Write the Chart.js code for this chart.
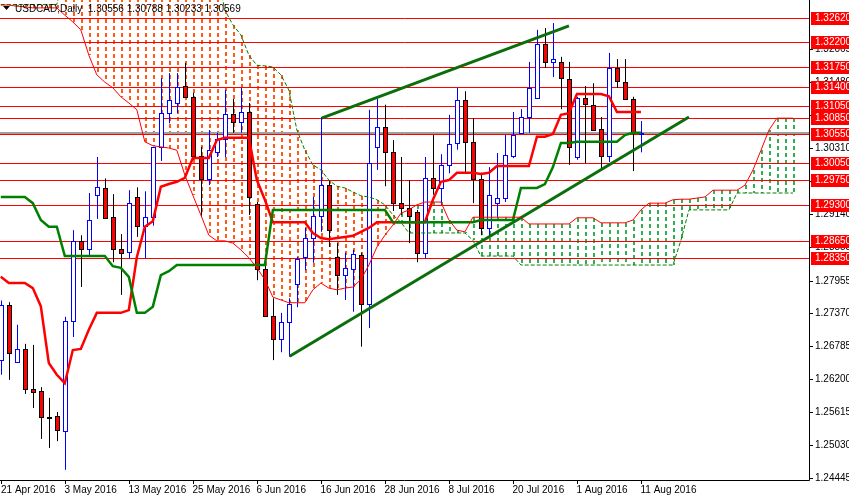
<!DOCTYPE html>
<html>
<head>
<meta charset="utf-8">
<script src="https://cdn.jsdelivr.net/npm/chart.js@4"></script>
<style>
  html, body { margin: 0; padding: 0; background: #fff; overflow: hidden; }
  canvas { display: block; }
</style>
</head>
<body>
<canvas id="chart" width="849" height="495"></canvas>
<script>
// daily candles, index 0 = 21 Apr 2016
const opens = [1.2654,1.2752,1.2651,1.2674,1.2603,1.2599,1.2553,1.2555,1.2528,1.2724,
  1.2866,1.2852,1.2948,1.2960,1.2908,1.2852,1.2846,1.2944,1.2893,1.2908,
  1.3033,1.3093,1.3111,1.3141,1.3121,1.3017,1.2976,1.3024,1.3047,1.3091,
  1.3077,1.3095,1.2932,1.2816,1.2732,1.2692,1.2722,1.2789,1.2837,1.2871,
  1.2910,1.2965,1.2837,1.2805,1.2816,1.2841,1.2754,1.3033,1.3068,1.3024,
  1.2933,1.2924,1.2917,1.2844,1.2978,1.2960,1.3001,1.3040,1.3116,1.3042,
  1.2976,1.2889,1.2933,1.2942,1.3017,1.3058,1.3086,1.3120,1.3216,1.3184,
  1.3184,1.3154,1.3015,1.3120,1.3107,1.3065,1.3017,1.3173,1.3148,1.3118,1.30556];
const highs = [1.2760,1.2757,1.2717,1.2683,1.2681,1.2606,1.2587,1.2562,1.2731,1.2885,
  1.2876,1.2951,1.3015,1.2977,1.2949,1.2878,1.2956,1.2961,1.2954,1.3033,
  1.3155,1.3164,1.3164,1.3182,1.3129,1.3033,1.3063,1.3058,1.3134,1.3118,
  1.3138,1.3111,1.2935,1.2827,1.2764,1.2738,1.2764,1.2837,1.2889,1.2944,
  1.3086,1.2974,1.2862,1.2845,1.2850,1.2845,1.3099,1.3118,1.3108,1.3045,
  1.3015,1.2974,1.2921,1.3015,1.3054,1.3020,1.3090,1.3138,1.3132,1.3084,
  1.2987,1.2997,1.3022,1.3054,1.3095,1.3100,1.3184,1.3241,1.3244,1.3253,
  1.3193,1.3184,1.3122,1.3141,1.3146,1.3086,1.3200,1.3189,1.3189,1.3122,1.30788];
const lows = [1.2628,1.2619,1.2649,1.2594,1.2569,1.2514,1.2498,1.2510,1.2459,1.2695,
  1.2784,1.2839,1.2905,1.2905,1.2828,1.2770,1.2835,1.2873,1.2835,1.2893,
  1.3008,1.3075,1.3093,1.3120,1.3010,1.2908,1.2965,1.3015,1.3015,1.3058,
  1.3058,1.2912,1.2796,1.2731,1.2654,1.2668,1.2660,1.2748,1.2814,1.2827,
  1.2882,1.2855,1.2770,1.2761,1.2740,1.2678,1.2711,1.2992,1.2963,1.2919,
  1.2912,1.2862,1.2828,1.2835,1.2948,1.2930,1.2986,1.3028,1.2986,1.2933,
  1.2876,1.2871,1.2908,1.2935,1.3013,1.3058,1.3058,1.3120,1.3173,1.3157,
  1.3100,1.3001,1.3010,1.3004,1.3063,1.2995,1.3006,1.3138,1.3118,1.2990,1.30233];
const closes = [1.2752,1.2667,1.2674,1.2603,1.2597,1.2553,1.2552,1.2530,1.2724,1.2866,
  1.2852,1.2903,1.2962,1.2907,1.2852,1.2844,1.2933,1.2893,1.2908,1.3033,
  1.3093,1.3116,1.3139,1.3121,1.3017,1.2976,1.3028,1.3047,1.3091,1.3077,
  1.3095,1.2944,1.2816,1.2732,1.2692,1.2722,1.2754,1.2834,1.2871,1.2910,
  1.2965,1.2885,1.2805,1.2818,1.2843,1.2754,1.3005,1.3068,1.3024,1.2933,
  1.2924,1.2910,1.2844,1.2978,1.2960,1.3001,1.3038,1.3116,1.3042,1.2976,
  1.2889,1.2948,1.2942,1.3019,1.3054,1.3086,1.3138,1.3216,1.3184,1.3189,
  1.3155,1.3033,1.3120,1.3109,1.3063,1.3017,1.3173,1.3150,1.3118,1.3058,1.30569];

// ichimoku lines
const tenkan = [1.2802,1.2791,1.2791,1.2791,1.2782,1.2750,1.2649,1.2628,1.2613,1.2672,
  1.2674,1.2708,1.2738,1.2738,1.2738,1.2738,1.2743,1.2837,1.2891,1.2901,
  1.2962,1.2967,1.2971,1.2978,1.3013,1.3013,1.3013,1.3045,1.3049,1.3049,
  1.3049,1.3049,1.2974,1.2939,1.2899,1.2899,1.2899,1.2899,1.2899,1.2880,
  1.2871,1.2869,1.2871,1.2873,1.2875,1.2882,1.2889,1.2899,1.2899,1.2899,
  1.2899,1.2899,1.2899,1.2899,1.2939,1.2971,1.2974,1.2987,1.2987,1.2987,
  1.2985,1.2987,1.2999,1.2999,1.2999,1.2999,1.2999,1.3051,1.3051,1.3056,
  1.3090,1.3093,1.3127,1.3127,1.3127,1.3127,1.3123,1.3095,1.3095,1.3095,1.3095];
const kijun = [1.2944,1.2944,1.2944,1.2944,1.2933,1.2903,1.2891,1.2891,1.2839,1.2839,
  1.2839,1.2839,1.2839,1.2839,1.2821,1.2818,1.2802,1.2738,1.2738,1.2749,
  1.2805,1.2812,1.2823,1.2823,1.2823,1.2823,1.2823,1.2823,1.2823,1.2823,
  1.2823,1.2823,1.2823,1.2823,1.2921,1.2921,1.2921,1.2921,1.2921,1.2921,
  1.2921,1.2921,1.2921,1.2921,1.2921,1.2921,1.2921,1.2921,1.2921,1.2899,
  1.2899,1.2899,1.2899,1.2899,1.2899,1.2899,1.2899,1.2899,1.2899,1.2899,
  1.2903,1.2903,1.2903,1.2903,1.2903,1.2960,1.2960,1.2960,1.2967,1.2997,
  1.3040,1.3040,1.3042,1.3042,1.3042,1.3042,1.3042,1.3042,1.3054,1.3058,1.3058];
const spanA = [1.3285,1.3285,1.3283,1.3282,1.3280,1.3280,1.3280,1.3280,1.3267,1.3255,
  1.3241,1.3196,1.3161,1.3148,1.3138,1.3122,1.3111,1.3099,1.3042,1.3035,
  1.3033,1.3031,1.3027,1.2983,1.2947,1.2912,1.2876,1.2866,1.2866,1.2862,
  1.2850,1.2836,1.2818,1.2797,1.2766,1.2761,1.2756,1.2756,1.2756,1.2779,
  1.2791,1.2782,1.2779,1.2782,1.2784,1.2797,1.2823,1.2855,1.2876,1.2894,
  1.2915,1.2921,1.2930,1.2935,1.2935,1.2935,1.2903,1.2885,1.2882,1.2908,
  1.2908,1.2908,1.2908,1.2908,1.2908,1.2908,1.2896,1.2896,1.2896,1.2896,
  1.2896,1.2896,1.2907,1.2907,1.2907,1.2898,1.2898,1.2898,1.2898,1.2903,
  1.2921,1.2933,1.2933,1.2933,1.2939,1.2940,1.2940,1.2942,1.2944,1.2956,
  1.2956,1.2956,1.2956,1.2965,1.2992,1.3027,1.3063,1.3084,1.3084,1.3084];
const spanB = [1.3286,1.3286,1.3286,1.3286,1.3286,1.3286,1.3286,1.3286,1.3347,1.3347,
  1.3347,1.3347,1.3347,1.3347,1.3347,1.3347,1.3347,1.3347,1.3347,1.3347,
  1.3347,1.3347,1.3347,1.3347,1.3347,1.3347,1.3347,1.3347,1.3276,1.3250,
  1.3232,1.3196,1.3178,1.3177,1.3175,1.3161,1.3134,1.3063,1.3027,1.3001,
  1.2992,1.2974,1.2963,1.2960,1.2953,1.2946,1.2944,1.2939,1.2930,1.2912,
  1.2899,1.2880,1.2880,1.2880,1.2880,1.2880,1.2880,1.2880,1.2880,1.2867,
  1.2839,1.2839,1.2839,1.2839,1.2839,1.2823,1.2823,1.2823,1.2823,1.2823,
  1.2823,1.2823,1.2823,1.2823,1.2823,1.2823,1.2823,1.2823,1.2823,1.2823,
  1.2823,1.2823,1.2823,1.2823,1.2823,1.2867,1.2921,1.2921,1.2921,1.2921,
  1.2921,1.2921,1.2951,1.2951,1.2951,1.2951,1.2951,1.2951,1.2951,1.2951];

// trend lines [bar index, price]
const trendUpper = [[40.1, 1.3084], [71, 1.3248]];
const trendLower = [[36.1, 1.2661], [86, 1.3086]];

const levels = [1.3262, 1.3220, 1.3175, 1.3140, 1.3105, 1.3085, 1.3055, 1.3005, 1.2975, 1.2930, 1.2865, 1.2835];
const bidPrice = 1.30569;
const yTicks = [1.32065, 1.31480, 1.30895, 1.30310, 1.29725, 1.29140, 1.28555, 1.27955, 1.27370, 1.26785, 1.26200, 1.25615, 1.25030, 1.24445];
const dateIdx = [0, 8, 16, 24, 32, 40, 48, 56, 64, 72, 80];
const dateLabels = ['21 Apr 2016', '3 May 2016', '13 May 2016', '25 May 2016', '6 Jun 2016', '16 Jun 2016',
  '28 Jun 2016', '8 Jul 2016', '20 Jul 2016', '1 Aug 2016', '11 Aug 2016'];
const title = 'USDCAD,Daily  1.30556 1.30788 1.30233 1.30569';

const FONT = '10px "Liberation Sans", Arial, sans-serif';
const pts = arr => arr.map((v, i) => ({ x: i, y: v }));
const tl = arr => arr.map(p => ({ x: p[0], y: p[1] }));

const mt4 = {
  id: 'mt4',
  beforeDraw(chart) {
    const ctx = chart.ctx;
    ctx.save();
    ctx.fillStyle = '#fff';
    ctx.fillRect(0, 0, chart.width, chart.height);
    ctx.restore();
  },
  beforeDatasetsDraw(chart) {
    const { ctx, chartArea: a } = chart;
    const xs = chart.scales.x, ys = chart.scales.y;
    ctx.save();
    ctx.beginPath();
    ctx.rect(a.left, a.top, a.right - a.left, a.bottom - a.top);
    ctx.clip();

    // cloud hatching: dashed verticals
    spanA.forEach((va, i) => {
      const vb = spanB[i];
      const x = Math.round(xs.getPixelForValue(i));
      const y1 = Math.round(Math.min(ys.getPixelForValue(va), ys.getPixelForValue(vb)));
      const y2 = Math.round(Math.max(ys.getPixelForValue(va), ys.getPixelForValue(vb)));
      ctx.fillStyle = vb > va ? '#ff5a1a' : '#30b050';
      for (let y = y1; y < y2; y += 7) ctx.fillRect(x, y, 2, Math.min(4, y2 - y));
    });

    // levels
    ctx.lineWidth = 1;
    ctx.strokeStyle = '#ff0000';
    levels.forEach(l => {
      const y = Math.round(ys.getPixelForValue(l)) + 0.5;
      ctx.beginPath();
      ctx.moveTo(a.left, y);
      ctx.lineTo(a.right, y);
      ctx.stroke();
    });
    ctx.strokeStyle = '#a0a0a0';
    ctx.lineWidth = 2;
    const by = Math.round(ys.getPixelForValue(bidPrice));
    ctx.beginPath();
    ctx.moveTo(a.left, by);
    ctx.lineTo(a.right, by);
    ctx.stroke();

    // candles
    ctx.lineWidth = 1;
    opens.forEach((o, i) => {
      const c = closes[i];
      const x = Math.round(xs.getPixelForValue(i));
      const up = c >= o;
      const yH = ys.getPixelForValue(highs[i]), yL = ys.getPixelForValue(lows[i]);
      const yT = Math.round(ys.getPixelForValue(Math.max(o, c)));
      const yB = Math.max(Math.round(ys.getPixelForValue(Math.min(o, c))), yT + 1);
      ctx.strokeStyle = up ? '#0000ff' : '#000000';
      ctx.beginPath();
      ctx.moveTo(x + 0.5, yH);
      ctx.lineTo(x + 0.5, yL);
      ctx.stroke();
      ctx.fillStyle = up ? '#ffffff' : '#ff0000';
      ctx.fillRect(x - 2, yT, 5, yB - yT);
      ctx.strokeRect(x - 2 + 0.5, yT + 0.5, 4, yB - yT);
    });
    ctx.restore();
  },
  afterDraw(chart) {
    const { ctx, chartArea: a } = chart;
    const xs = chart.scales.x, ys = chart.scales.y;
    ctx.save();
    ctx.strokeStyle = '#000';
    ctx.lineWidth = 1;
    ctx.beginPath();
    ctx.moveTo(a.right + 0.5, 0);
    ctx.lineTo(a.right + 0.5, a.bottom + 0.5);
    ctx.lineTo(0, a.bottom + 0.5);
    ctx.stroke();
    ctx.font = FONT;
    ctx.fillStyle = '#000';
    ctx.textBaseline = 'middle';
    ctx.textAlign = 'left';
    yTicks.forEach(t => {
      const y = Math.round(ys.getPixelForValue(t)) + 0.5;
      ctx.beginPath();
      ctx.moveTo(a.right, y);
      ctx.lineTo(a.right + 4, y);
      ctx.stroke();
      ctx.fillText(t.toFixed(5), a.right + 6, y);
    });
    levels.forEach(l => {
      const y = Math.round(ys.getPixelForValue(l));
      ctx.fillStyle = '#ff0000';
      ctx.fillRect(a.right + 2, y - 6, chart.width - a.right - 2, 13);
      ctx.fillStyle = '#fff';
      ctx.fillText(l.toFixed(5), a.right + 6, y + 0.5);
    });
    ctx.fillStyle = '#000';
    ctx.textBaseline = 'alphabetic';
    dateIdx.forEach((d, k) => {
      const x = Math.round(xs.getPixelForValue(d)) + 0.5;
      ctx.beginPath();
      ctx.moveTo(x, a.bottom);
      ctx.lineTo(x, a.bottom + 4);
      ctx.stroke();
      ctx.fillText(dateLabels[k], Math.max(x - 1, 1), a.bottom + 13);
    });
    // title
    ctx.beginPath();
    ctx.moveTo(3, 6); ctx.lineTo(10, 6); ctx.lineTo(6.5, 10); ctx.closePath();
    ctx.fill();
    ctx.fillText(title, 15, 12);
    ctx.restore();
  }
};

new Chart(document.getElementById('chart'), {
  type: 'line',
  data: {
    datasets: [
      { data: pts(spanA), borderColor: '#ff0000', borderWidth: 1 },
      { data: pts(spanB), borderColor: '#008000', borderWidth: 1, borderDash: [4, 2] },
      { data: pts(kijun), borderColor: '#008000', borderWidth: 2.5 },
      { data: pts(tenkan), borderColor: '#ff0000', borderWidth: 2.5 },
      { data: tl(trendUpper), borderColor: '#0a6e0a', borderWidth: 3 },
      { data: tl(trendLower), borderColor: '#0a6e0a', borderWidth: 3 }
    ]
  },
  options: {
    responsive: false,
    animation: false,
    devicePixelRatio: 1,
    layout: { padding: { right: 40, bottom: 15 } },
    elements: { point: { radius: 0 }, line: { tension: 0 } },
    plugins: { legend: { display: false }, tooltip: { enabled: false } },
    scales: {
      x: { type: 'linear', min: -0.1, max: 101, display: false },
      y: { min: 1.2441, max: 1.3294, display: false }
    }
  },
  plugins: [mt4]
});
</script>
</body>
</html>
